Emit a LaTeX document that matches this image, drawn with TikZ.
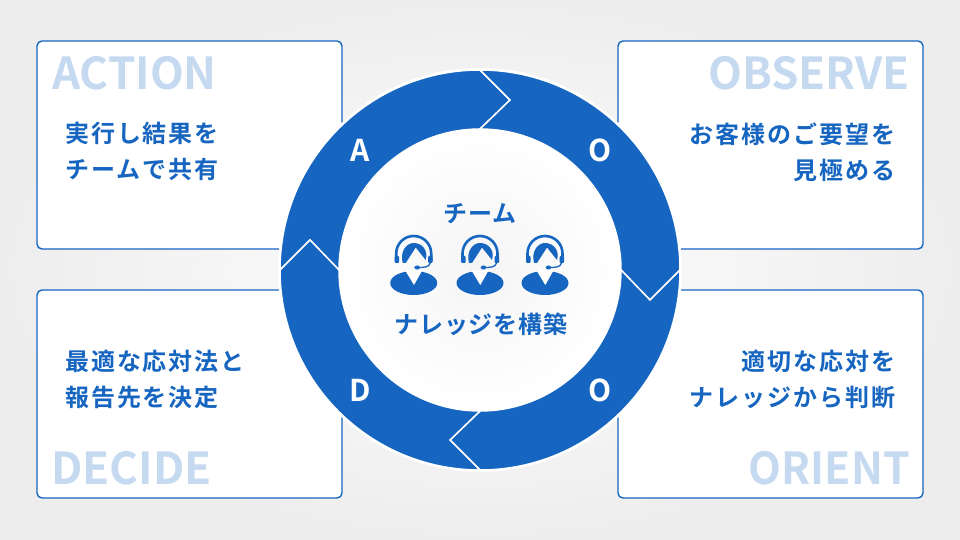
\documentclass[tikz,border=0pt]{standalone}
\usepackage{fontspec}
\setmainfont{Noto Sans CJK JP}[BoldFont={Noto Sans CJK JP Bold}]
\newfontfamily\bodyjp{Noto Sans CJK JP Bold}[LetterSpace=8]
\newfontfamily\centrejp{Noto Sans CJK JP Bold}[LetterSpace=4]
\newfontfamily\headjp{Noto Sans CJK JP Bold}
\definecolor{mainblue}{HTML}{1665C0}
\definecolor{paleblue}{HTML}{C5D9F0}
\tikzset{
  x=1pt,y=1pt,
  card/.style={draw=mainblue,fill=white,line width=1.4pt,rounded corners=5pt},
  arcseg/.style={fill=mainblue,draw=white,line width=1.5pt,line join=miter},
  bodytxt/.style={text=mainblue,font={\bodyjp\fontsize{24}{36}\selectfont},inner sep=0pt},
  centretxt/.style={text=mainblue,font={\centrejp\fontsize{24}{36}\selectfont},inner sep=0pt},
  headtxt/.style={text=paleblue,font={\headjp\fontsize{44}{44}\selectfont},inner sep=0pt},
  lettertxt/.style={text=white,font={\headjp\fontsize{30}{30}\selectfont},inner sep=0pt},
  pics/agent/.style={code={
    \fill[mainblue] (0,0) ellipse[x radius=23.5,y radius=12];
    \fill[white] (-8.5,12.5) -- (0.3,-2) -- (8.5,12.5) -- cycle;
    \fill[mainblue] (-11,20) .. controls (-14,32) and (-7,40) .. (0,40) .. controls (8,40) and (15,33) .. (12,23) -- (2,35.5) -- (-8,20) -- cycle;
    \draw[mainblue,line width=2.6pt] (-17.5,22) -- (-17.5,29.5) arc[start angle=180,end angle=0,radius=17.5] -- (17.5,22);
    \fill[mainblue,rounded corners=1pt] (-19,20) rectangle (-14.5,27);
    \fill[mainblue,rounded corners=1pt] (14.5,20) rectangle (19,27);
    \draw[mainblue,line width=1.3pt] (16.5,20) .. controls (15.5,15.5) and (10,15.5) .. (3,15.5);
    \fill[mainblue,rounded corners=1.7pt] (0.5,13.7) rectangle (6.5,17.3);
  }}
}
\begin{document}
\begin{tikzpicture}
\useasboundingbox (0,0) rectangle (960,540);
\shade[inner color=white,outer color=black!7] (0,0) rectangle (960,540);
% cards
\draw[card] (37,291) rectangle (342,499);
\draw[card] (618,291) rectangle (923,499);
\draw[card] (37,42) rectangle (342,250);
\draw[card] (618,42) rectangle (923,250);
% disc
\begin{scope}[shift={(480,270)}]
\fill[white] (0,0) circle[radius=202];
\shade[inner color=black!4,outer color=white] (0,0) circle[radius=141];
\foreach \r in {0,-90,-180,-270}{
  \begin{scope}[rotate=\r]
  \draw[arcseg] (-200,0) arc[start angle=180,end angle=90,radius=200]
     -- (30,170) -- (0,141) arc[start angle=90,end angle=180,radius=141]
     -- (-170,30) -- cycle;
  \end{scope}
}
\end{scope}
\node[lettertxt] (la) at (360,390) {A};
\node[lettertxt] (lo) at (600,390) {O};
\node[lettertxt] (lo2) at (600,150) {O};
\node[lettertxt] (ld) at (360,150) {D};
% card heads
\node[headtxt,anchor=base west] (h1) at (52,450) {ACTION};
\node[headtxt,anchor=base east] (h2) at (910,450) {OBSERVE};
\node[headtxt,anchor=base west] (h3) at (51,55) {DECIDE};
\node[headtxt,anchor=base east,xscale=.97] (h4) at (910,55) {ORIENT};
% card bodies
\node[bodytxt,anchor=west,align=left] (b1) at (65,388.5) {実行し結果を\\チームで共有};
\node[bodytxt,anchor=east,align=right] (b2) at (895.5,388) {お客様のご要望を\\見極める};
\node[bodytxt,anchor=west,align=left] (b3) at (65,161) {最適な応対法と\\報告先を決定};
\node[bodytxt,anchor=east,align=right] (b4) at (895.5,161) {適切な応対を\\ナレッジから判断};
% centre
\node[centretxt] (t1) at (480,326) {チーム};
\node[centretxt] (t2) at (481,216) {ナレッジを構築};
\pic at (413.7,257) {agent};
\pic at (480,257) {agent};
\pic at (545,257) {agent};
\end{tikzpicture}
\end{document}
